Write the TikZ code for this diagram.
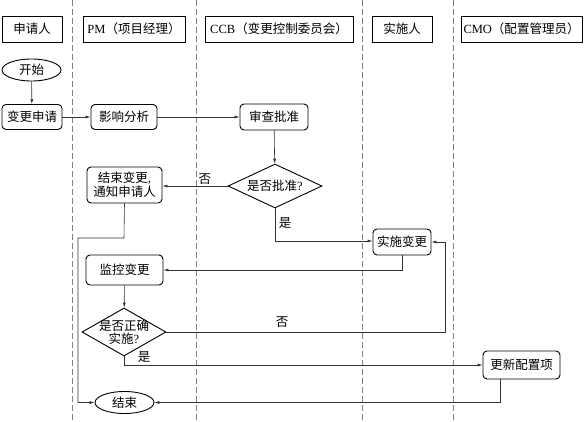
\documentclass[tikz,border=0pt]{standalone}
\usepackage{fontspec}
\setmainfont{Liberation Serif}
\newfontfamily\cjk{Noto Sans CJK SC}
\usetikzlibrary{arrows.meta,shapes.geometric}
\newcommand\lat[1]{{\rmfamily #1}}
\tikzset{
  lane/.style={draw=black!50,dashed,dash pattern=on 6pt off 3pt,line width=0.8pt},
  hdr/.style={draw,line width=0.8pt,minimum height=26pt,inner sep=2pt,font=\cjk\fontsize{12.5}{14}\selectfont},
  proc/.style={draw,rounded corners=4pt,line width=0.9pt,inner sep=2pt,align=center,font=\cjk\fontsize{12.5}{14}\selectfont},
  term/.style={draw,ellipse,line width=0.9pt,inner sep=0pt,font=\cjk\fontsize{12.5}{14}\selectfont},
  dec/.style={draw,diamond,aspect=2,line width=0.9pt,inner sep=0pt,align=center,font=\cjk\fontsize{12.5}{14}\selectfont},
  conn/.style={draw=black!80,line width=0.6pt,-{Latex[length=5pt,width=3pt]}},
  lbl/.style={font=\cjk\fontsize{12.5}{14}\selectfont,inner sep=1pt}
}
\begin{document}
\begin{tikzpicture}[x=1pt,y=-1pt]
\useasboundingbox (0,0) rectangle (585,422);
% lanes
\draw[lane] (72,0) -- (72,422);
\draw[lane] (196,0) -- (196,422);
\draw[lane] (362,0) -- (362,422);
\draw[lane] (453,0) -- (453,422);
% headers
\node[hdr,minimum width=60pt] (h1) at (32,29) {申请人};
\node[hdr,minimum width=102pt] (h2) at (134,29) {\lat{PM}（项目经理）};
\node[hdr,minimum width=148pt] (h3) at (279,29) {\lat{CCB}（变更控制委员会）};
\node[hdr,minimum width=60pt] (h4) at (402,29) {实施人};
\node[hdr,minimum width=121pt] (h5) at (521.5,29) {\lat{CMO}（配置管理员）};
% nodes
\node[term,minimum width=59pt,minimum height=22pt] (start) at (31.5,70) {开始};
\node[proc,minimum width=60pt,minimum height=25pt] (req) at (32,117) {变更申请};
\node[proc,minimum width=66pt,minimum height=25pt] (ana) at (124,117) {影响分析};
\node[proc,minimum width=68pt,minimum height=26pt] (rev) at (274,117) {审查批准};
\node[dec,minimum width=94pt,minimum height=44pt,inner sep=-4pt] (d1) at (275,186) {是否批准\lat{?}};
\node[proc,minimum width=75pt,minimum height=36pt] (endn) at (124.5,185) {结束变更\lat{,}\\通知申请人};
\node[proc,minimum width=58pt,minimum height=26pt] (impl) at (402,242) {实施变更};
\node[proc,minimum width=77pt,minimum height=30pt] (mon) at (124.5,270) {监控变更};
\node[dec,minimum width=84pt,minimum height=48pt,inner sep=-9pt,font=\cjk\fontsize{12.5}{13}\selectfont] (d2) at (124,332) {是否正确\\实施\lat{?}};
\node[proc,minimum width=77pt,minimum height=28pt] (upd) at (521.5,365) {更新配置项};
\node[term,minimum width=59pt,minimum height=22pt] (fin) at (124.5,402.5) {结束};
% coordinates
\coordinate (c1) at (124,238);
\coordinate (c2) at (78,238);
\coordinate (c3) at (78,402.5);
\coordinate (c4) at (275,241);
\coordinate (c5) at (402,270);
\coordinate (c6) at (445,332);
\coordinate (c7) at (445,242);
\coordinate (c8) at (124,365);
\coordinate (c9) at (500,402.5);
% connectors
\draw[conn] (start) -- (req);
\draw[conn] (req) -- (ana);
\draw[conn] (ana) -- (rev);
\draw[conn] (rev) -- (d1);
\draw[conn] (d1.west) -- node[lbl,above,pos=0.35] {否} (endn.east|-d1.west);
\draw[conn] (d1.south) -- (c4) -- (impl.west|-c4);
\node[lbl] (y1) at (285,223) {是};
\draw[conn] (endn.south) -- (c1) -- (c2) -- (c3) -- (fin.west);
\draw[conn] (impl.south) -- (c5) -- (mon.east|-c5);
\draw[conn] (mon) -- (d2);
\draw[conn] (d2.east) -- (c6) -- (c7) -- (impl.east);
\node[lbl] (n2) at (282,322) {否};
\draw[conn] (d2.south) -- (c8) -- (upd.west|-c8);
\node[lbl] (y2) at (144,357) {是};
\draw[conn] (upd.south-|c9) -- (c9) -- (fin.east);
\end{tikzpicture}
\end{document}
